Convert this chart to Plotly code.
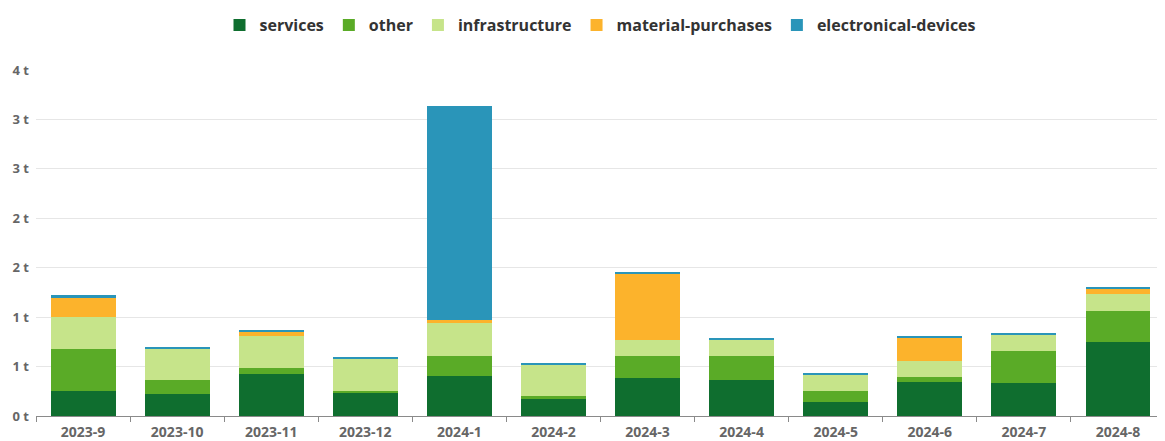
import plotly.graph_objects as go

months = ["2023-9", "2023-10", "2023-11", "2023-12", "2024-1", "2024-2",
          "2024-3", "2024-4", "2024-5", "2024-6", "2024-7", "2024-8"]

services = [0.256, 0.223, 0.428, 0.236, 0.405, 0.179, 0.384, 0.361, 0.142, 0.347, 0.337, 0.749]
other = [0.422, 0.138, 0.057, 0.020, 0.205, 0.020, 0.226, 0.249, 0.114, 0.047, 0.320, 0.317]
infrastructure = [0.320, 0.320, 0.327, 0.324, 0.334, 0.320, 0.156, 0.159, 0.159, 0.159, 0.169, 0.169]
material_purchases = [0.203, 0.0, 0.047, 0.0, 0.030, 0.0, 0.677, 0.0, 0.0, 0.236, 0.0, 0.051]
electronical_devices = [0.020, 0.020, 0.013, 0.017, 2.165, 0.014, 0.010, 0.017, 0.013, 0.013, 0.013, 0.010]

tick_vals = [0, 0.5, 1, 1.5, 2, 2.5, 3, 3.5]
tick_text = ["0 t", "1 t", "1 t", "2 t", "2 t", "3 t", "3 t", "4 t"]

series = [
    ("services", services, "#0f6e2f"),
    ("other", other, "#5aab27"),
    ("infrastructure", infrastructure, "#c6e48a"),
    ("material-purchases", material_purchases, "#fcb32c"),
    ("electronical-devices", electronical_devices, "#2a95b9"),
]

fig = go.Figure()
for name, vals, color in series:
    fig.add_trace(go.Bar(
        x=months, y=vals, name=name,
        marker=dict(color=color, line=dict(width=0)),
    ))

# page body has an 8px default margin, so the figure is sized to fit the window
fig.update_layout(
    barmode="stack",
    bargap=0.31,
    width=1157, height=433,
    margin=dict(l=28, r=0, t=62, b=25),
    paper_bgcolor="white",
    plot_bgcolor="white",
    font=dict(family="Open Sans", color="#666666"),
    legend=dict(
        orientation="h",
        x=0.5, xanchor="center",
        yref="container", y=1.0, yanchor="top",
        font=dict(family="Open Sans", size=16, color="#333333", weight="bold"),
        itemsizing="constant",
        traceorder="normal",
    ),
    showlegend=True,
)

fig.update_xaxes(
    type="category",
    showgrid=False,
    showline=True, linecolor="#8a8a8a", linewidth=1,
    ticks="outside", tickson="boundaries", ticklen=5, tickcolor="#8a8a8a",
    ticklabelstandoff=3,
    tickfont=dict(family="Open Sans", size=14, color="#666666", weight="bold"),
)

fig.update_yaxes(
    range=[0, 3.5],
    tickvals=tick_vals, ticktext=tick_text,
    showgrid=True, gridcolor="#e6e6e6", gridwidth=1,
    zeroline=False,
    showline=False,
    ticklabelstandoff=6,
    tickfont=dict(family="Open Sans", size=13, color="#666666", weight="bold"),
)

fig.write_html("out.html")
